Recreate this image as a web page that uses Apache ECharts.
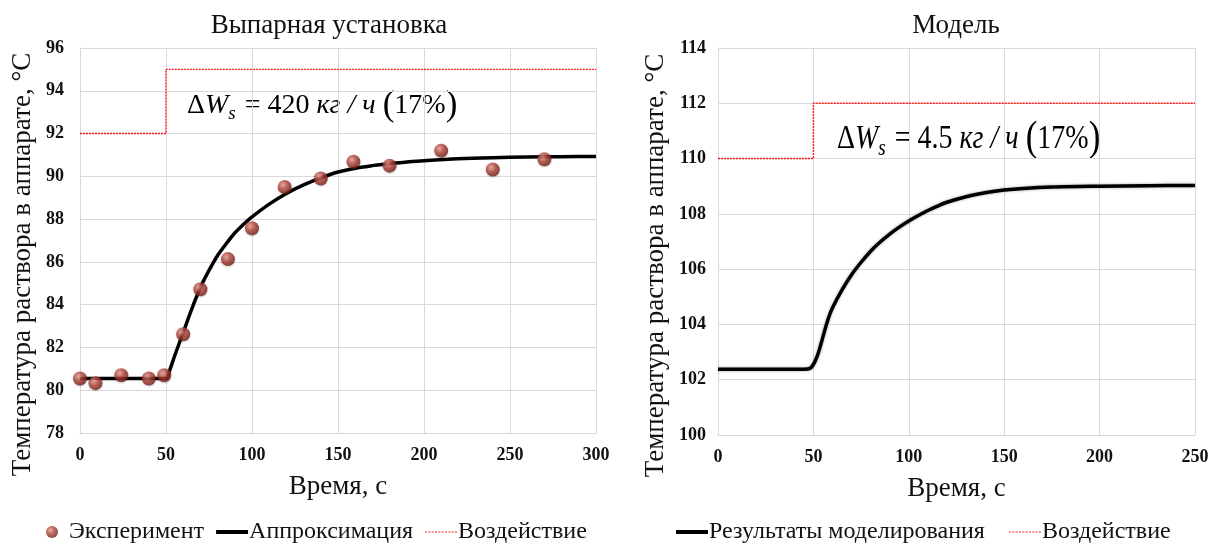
<!DOCTYPE html>
<html>
<head>
<meta charset="utf-8">
<script src="https://cdn.jsdelivr.net/npm/echarts@6/dist/echarts.min.js"></script>
<style>
html,body{margin:0;padding:0;background:#fff;}
#chart{width:1221px;height:544px;}
</style>
</head>
<body>
<div id="chart"></div>
<script>
// Experiment: measured solution temperature, °C
const expTime = [0, 9, 24, 40, 49, 60, 70, 86, 100, 119, 140, 159, 180, 210, 240, 270];
const expTemp = [80.55, 80.33, 80.7, 80.55, 80.7, 82.62, 84.72, 86.13, 87.57, 89.5, 89.9, 90.68, 90.5, 91.2, 90.32, 90.8];

// Approximation curve
const apxTime = [0, 50, 52, 55, 60, 65, 70, 75, 80, 85, 90, 95, 100, 110, 120, 130, 140, 150, 160, 170, 180, 190, 200, 220, 240, 260, 280, 300];
const apxTemp = [80.55, 80.55, 80.9, 81.6, 82.7, 83.8, 84.8, 85.6, 86.3, 86.85, 87.35, 87.75, 88.1, 88.7, 89.2, 89.6, 89.93, 90.2, 90.38, 90.5, 90.6, 90.67, 90.73, 90.82, 90.87, 90.9, 90.92, 90.93];

// Disturbance step, left chart
const stepTimeL = [0, 50, 50, 300];
const stepValL = [92, 92, 95, 95];

// Simulation results
const simTime = [0, 45, 48, 50, 52, 54, 56, 58, 60, 65, 70, 75, 80, 85, 90, 95, 100, 105, 110, 115, 120, 130, 140, 150, 160, 175, 200, 225, 250];
const simTemp = [102.38, 102.38, 102.4, 102.55, 102.85, 103.3, 103.8, 104.25, 104.6, 105.25, 105.8, 106.25, 106.65, 106.98, 107.27, 107.52, 107.74, 107.94, 108.12, 108.28, 108.42, 108.62, 108.76, 108.86, 108.92, 108.97, 109.0, 109.02, 109.03];

// Disturbance step, right chart
const stepTimeR = [0, 50, 50, 250];
const stepValR = [110, 110, 112, 112];

const titles = ['Выпарная установка', 'Модель'];
const yAxisName = 'Температура раствора в аппарате, °С';
const xAxisName = 'Время, с';
const legendLeft = ['Эксперимент', 'Аппроксимация', 'Воздействие'];
const legendRight = ['Результаты моделирования', 'Воздействие'];

const pairs = (xs, ys) => xs.map((x, i) => [x, ys[i]]);

const serif = '"Liberation Serif", "Times New Roman", serif';
const gridColor = '#d9d9d9';
const stepRed = '#ff1a1a';
const ink = '#111';

function xAxisCfg(gridIndex, max) {
  return {
    type: 'value', gridIndex, min: 0, max, interval: 50,
    name: xAxisName, nameLocation: 'middle', nameGap: 40,
    nameTextStyle: { fontFamily: serif, fontSize: 27, color: ink },
    axisLine: { show: true, lineStyle: { color: gridColor } },
    axisTick: { show: false },
    axisLabel: { fontFamily: serif, fontWeight: 'bold', fontSize: 18, color: ink, margin: 13 },
    splitLine: { show: true, lineStyle: { color: gridColor, width: 1 } }
  };
}
function yAxisCfg(gridIndex, min, max, gap, margin) {
  return {
    type: 'value', gridIndex, min, max, interval: 2,
    name: yAxisName, nameLocation: 'middle', nameGap: gap,
    nameTextStyle: { fontFamily: serif, fontSize: 27, color: ink, padding: [0, 48, 0, 0] },
    axisLine: { show: true, lineStyle: { color: gridColor } },
    axisTick: { show: false },
    axisLabel: { fontFamily: serif, fontWeight: 'bold', fontSize: 18, color: ink, margin },
    splitLine: { show: true, lineStyle: { color: gridColor, width: 1 } }
  };
}

const ballColor = new echarts.graphic.RadialGradient(0.38, 0.35, 0.7, [
  { offset: 0, color: '#e8a090' },
  { offset: 0.45, color: '#b2443b' },
  { offset: 1, color: '#6a1812' }
]);

// Legend glyphs: a thick solid bar and a fine dotted bar, padded to a 12-unit tall box
const pad = 'M0,0h0.01v0.01h-0.01zM0,12h0.01v0.01h-0.01z';
const solidIcon = 'path://' + pad + 'M0,4h32v4h-32z';
let dots = '';
for (let x = 0; x < 30; x += 3) dots += 'M' + x + ',5.4h1.8v1.2h-1.8z';
const dottedIcon = 'path://' + pad + dots;

function annoRich(fs) {
  return {
    d: { fontFamily: serif, fontSize: fs, color: ink },
    i: { fontFamily: serif, fontSize: fs, fontStyle: 'italic', color: ink },
    sub: { fontFamily: serif, fontSize: Math.round(fs * 0.68), fontStyle: 'italic', color: ink, verticalAlign: 'bottom', padding: [Math.round(fs * 0.5), 2, 0, 0] },
    n: { fontFamily: serif, fontSize: fs, color: ink },
    p: { fontFamily: serif, fontSize: Math.round(fs * 1.25), color: ink }
  };
}
function anno(amount) {
  return '{d|Δ}{i|W}{sub|s}{n| = ' + amount + ' }{i|кг / ч }{p|(}{n|17%}{p|)}';
}

const legendText = { fontFamily: serif, fontSize: 24, color: ink, padding: [0, 0, 0, -4] };

const chart = echarts.init(document.getElementById('chart'), null, { renderer: 'canvas' });
chart.setOption({
  animation: false,
  backgroundColor: '#fff',
  title: [
    { text: titles[0], left: 324, top: 7, textAlign: 'center',
      textStyle: { fontFamily: serif, fontSize: 27, fontWeight: 'normal', color: ink } },
    { text: titles[1], left: 951, top: 7, textAlign: 'center',
      textStyle: { fontFamily: serif, fontSize: 27, fontWeight: 'normal', color: ink } }
  ],
  grid: [
    { left: 80, right: 625, top: 48, bottom: 111 },
    { left: 718, right: 26, top: 48, bottom: 109 }
  ],
  xAxis: [xAxisCfg(0, 300), xAxisCfg(1, 250)],
  yAxis: [yAxisCfg(0, 78, 96, 44, 16), yAxisCfg(1, 100, 114, 49, 12)],
  legend: [
    {
      left: 41, top: 515, itemGap: 12, itemWidth: 32, itemHeight: 12, symbolKeepAspect: false,
      data: [
        { name: legendLeft[0], icon: 'circle' },
        { name: legendLeft[1], icon: solidIcon, itemStyle: { color: '#000' } },
        { name: legendLeft[2], icon: dottedIcon, itemStyle: { color: stepRed } }
      ],
      textStyle: legendText
    },
    {
      left: 671, top: 515, itemGap: 24, itemWidth: 32, itemHeight: 12, symbolKeepAspect: false,
      data: [
        { name: legendRight[0], icon: solidIcon, itemStyle: { color: '#000' } },
        { name: legendRight[1], icon: dottedIcon, itemStyle: { color: stepRed } }
      ],
      textStyle: legendText
    }
  ],
  graphic: [
    { type: 'text', left: 187, top: 88, style: { text: anno('420'), rich: annoRich(28) } },
    { type: 'text', left: 837, top: 118, scaleY: 1.2, style: { text: anno('4.5'), rich: annoRich(28) } }
  ],
  series: [
    {
      name: legendLeft[2], type: 'line', xAxisIndex: 0, yAxisIndex: 0,
      data: pairs(stepTimeL, stepValL), symbol: 'none',
      lineStyle: { color: stepRed, width: 1.4, type: [2, 1] },
      itemStyle: { color: stepRed }, z: 3
    },
    {
      name: legendLeft[1], type: 'line', xAxisIndex: 0, yAxisIndex: 0,
      data: pairs(apxTime, apxTemp), symbol: 'none', smooth: 0.3,
      lineStyle: { color: '#000', width: 3.5 },
      itemStyle: { color: '#000' }, z: 4
    },
    {
      name: legendLeft[0], type: 'scatter', xAxisIndex: 0, yAxisIndex: 0,
      data: pairs(expTime, expTemp), symbol: 'circle', symbolSize: 14,
      itemStyle: { color: ballColor, shadowColor: 'rgba(0,0,0,0.25)', shadowBlur: 2, shadowOffsetY: 1 },
      z: 5
    },
    {
      name: legendRight[1], type: 'line', xAxisIndex: 1, yAxisIndex: 1,
      data: pairs(stepTimeR, stepValR), symbol: 'none',
      lineStyle: { color: stepRed, width: 1.4, type: [2, 1] },
      itemStyle: { color: stepRed }, z: 3
    },
    {
      name: legendRight[0], type: 'line', xAxisIndex: 1, yAxisIndex: 1,
      data: pairs(simTime, simTemp), symbol: 'none', smooth: 0.3,
      lineStyle: { color: '#000', width: 3.5, shadowColor: 'rgba(0,0,0,0.35)', shadowBlur: 3 },
      itemStyle: { color: '#000' }, z: 4
    }
  ]
});
</script>
</body>
</html>
